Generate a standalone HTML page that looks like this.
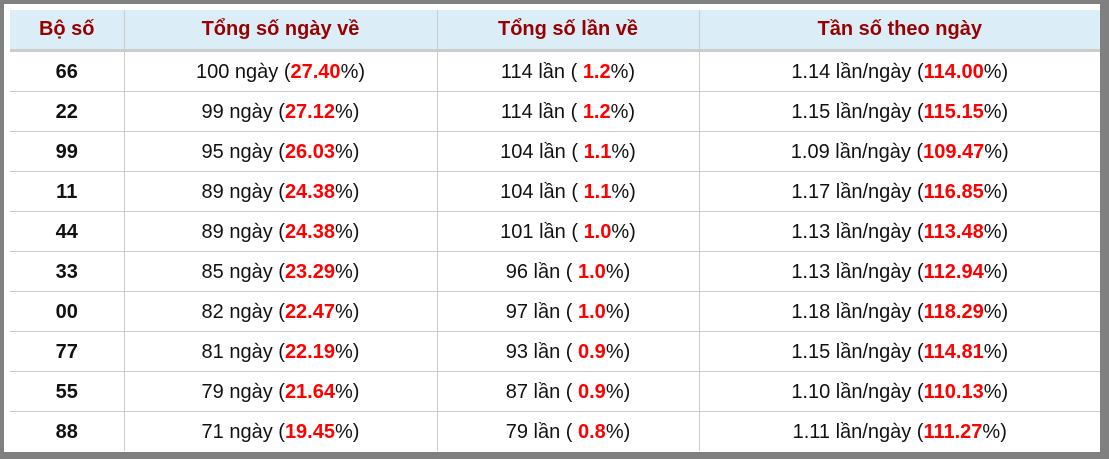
<!DOCTYPE html><html><head><meta charset="utf-8"><style>
body{margin:0;width:1109px;height:459px;background:#808080;overflow:hidden}
.w{position:absolute;left:4px;top:4px;width:1096px;height:448px;background:#fff}
table{position:absolute;left:10px;top:10px;width:1090px;border-collapse:collapse;font-family:"Liberation Sans",Arial,sans-serif;font-size:20px;color:#111}
th{background:#dbedf6;color:#990000;font-weight:bold;height:39px;border-left:1px solid #ccc;border-bottom:3px solid #ccc;padding:0;line-height:39px}
td{height:37px;border-left:1px solid #ccc;border-top:1px solid #ccc;text-align:center;padding:2px 0 0 0;line-height:37px}
tr:nth-child(2) td{border-top:none}
th:first-child,td:first-child{border-left:none}
td:first-child{font-weight:bold}
b{color:#f00}
</style></head><body><div class="w"></div>
<table><colgroup><col style="width:114px"><col style="width:313px"><col style="width:262px"><col></colgroup>
<tr><th>Bộ số</th><th>Tổng số ngày về</th><th>Tổng số lần về</th><th>Tần số theo ngày</th></tr>
<tr><td>66</td><td>100 ngày (<b>27.40</b>%)</td><td>114 lần ( <b>1.2</b>%)</td><td>1.14 lần/ngày (<b>114.00</b>%)</td></tr>
<tr><td>22</td><td>99 ngày (<b>27.12</b>%)</td><td>114 lần ( <b>1.2</b>%)</td><td>1.15 lần/ngày (<b>115.15</b>%)</td></tr>
<tr><td>99</td><td>95 ngày (<b>26.03</b>%)</td><td>104 lần ( <b>1.1</b>%)</td><td>1.09 lần/ngày (<b>109.47</b>%)</td></tr>
<tr><td>11</td><td>89 ngày (<b>24.38</b>%)</td><td>104 lần ( <b>1.1</b>%)</td><td>1.17 lần/ngày (<b>116.85</b>%)</td></tr>
<tr><td>44</td><td>89 ngày (<b>24.38</b>%)</td><td>101 lần ( <b>1.0</b>%)</td><td>1.13 lần/ngày (<b>113.48</b>%)</td></tr>
<tr><td>33</td><td>85 ngày (<b>23.29</b>%)</td><td>96 lần ( <b>1.0</b>%)</td><td>1.13 lần/ngày (<b>112.94</b>%)</td></tr>
<tr><td>00</td><td>82 ngày (<b>22.47</b>%)</td><td>97 lần ( <b>1.0</b>%)</td><td>1.18 lần/ngày (<b>118.29</b>%)</td></tr>
<tr><td>77</td><td>81 ngày (<b>22.19</b>%)</td><td>93 lần ( <b>0.9</b>%)</td><td>1.15 lần/ngày (<b>114.81</b>%)</td></tr>
<tr><td>55</td><td>79 ngày (<b>21.64</b>%)</td><td>87 lần ( <b>0.9</b>%)</td><td>1.10 lần/ngày (<b>110.13</b>%)</td></tr>
<tr><td>88</td><td>71 ngày (<b>19.45</b>%)</td><td>79 lần ( <b>0.8</b>%)</td><td>1.11 lần/ngày (<b>111.27</b>%)</td></tr>
</table></body></html>
